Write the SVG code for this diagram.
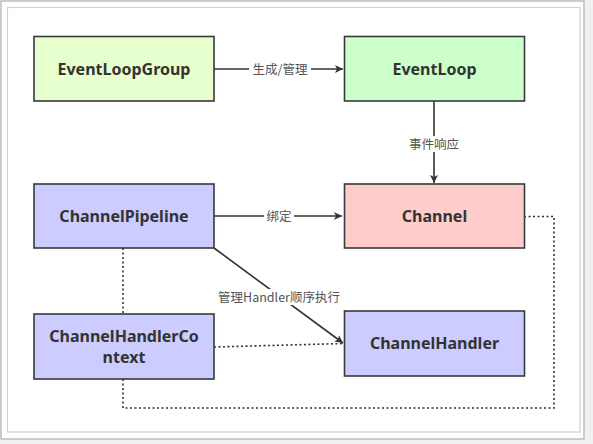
<svg xmlns="http://www.w3.org/2000/svg" width="593" height="444" viewBox="0 0 593 444">
<defs>
<style>
.node rect{stroke:#36393d;stroke-width:1.6}
.node text{font-family:"Noto Sans","Liberation Sans","Noto Sans CJK SC",sans-serif;font-weight:bold;font-size:16px;fill:#333;text-anchor:middle}
.edge{stroke:#333;stroke-width:1.6;fill:none}
.dot{stroke:#333;stroke-width:1.6;fill:none;stroke-dasharray:2 2.5}
.lbl{font-family:"Noto Sans CJK SC","Noto Sans",sans-serif;font-size:12.5px;fill:#555;text-anchor:middle}
</style>
<marker id="arr" viewBox="0 0 10 10" refX="10" refY="5" markerWidth="8" markerHeight="8" markerUnits="userSpaceOnUse" orient="auto">
<path d="M0,0 L10,5 L0,10 L2.5,5 Z" fill="#333"/>
</marker>
</defs>
<rect x="0" y="0" width="593" height="444" fill="#f0f0f0"/>
<rect x="1" y="1" width="583" height="438" fill="#fff" stroke="#bdbdbd" stroke-width="1.5"/>
<rect x="7.5" y="7.5" width="572.5" height="424.5" fill="#fff" stroke="#cfcfcf" stroke-width="1.2"/>

<g id="connectors">
<line class="edge" x1="214" y1="69" x2="343" y2="69" marker-end="url(#arr)"/>
<rect x="249" y="61" width="62" height="16" fill="#fff"/>
<text class="lbl" x="280" y="73.5">生成/管理</text>

<line class="edge" x1="434" y1="101" x2="434" y2="183" marker-end="url(#arr)"/>
<rect x="404" y="136" width="60" height="16" fill="#fff"/>
<text class="lbl" x="434" y="148.5">事件响应</text>

<line class="edge" x1="214" y1="216" x2="342" y2="216" marker-end="url(#arr)"/>
<rect x="264" y="208" width="30" height="16" fill="#fff"/>
<text class="lbl" x="279" y="220.5">绑定</text>

<line class="edge" x1="214" y1="248" x2="343" y2="343" marker-end="url(#arr)"/>
<rect x="213" y="289" width="132" height="16" fill="#fff"/>
<text class="lbl" x="279" y="301.5">管理Handler顺序执行</text>

<line class="dot" x1="123" y1="248" x2="123" y2="314"/>
<line class="dot" x1="214" y1="347" x2="344" y2="343.5"/>
<polyline class="dot" points="123,379 123,408 554,408 554,216.5 524,216.5"/>
</g>

<g id="EventLoopGroup" class="node">
<rect x="34" y="36.5" width="180" height="64.5" fill="#e6ffcc"/>
<text x="124" y="74.5">EventLoopGroup</text>
</g>
<g id="EventLoop" class="node">
<rect x="344.5" y="36.5" width="180" height="64.5" fill="#ccffcc"/>
<text x="434.5" y="74.5">EventLoop</text>
</g>
<g id="ChannelPipeline" class="node">
<rect x="34" y="184" width="180" height="64" fill="#ccccff"/>
<text x="124" y="221.5">ChannelPipeline</text>
</g>
<g id="Channel" class="node">
<rect x="344.5" y="184" width="180" height="64" fill="#ffcccc"/>
<text x="434.5" y="221.5">Channel</text>
</g>
<g id="ChannelHandlerContext" class="node">
<rect x="34" y="314" width="180" height="65" fill="#ccccff"/>
<text x="124" y="342">ChannelHandlerCo</text>
<text x="124" y="362.5">ntext</text>
</g>
<g id="ChannelHandler" class="node">
<rect x="344.5" y="311" width="180" height="65" fill="#ccccff"/>
<text x="434.5" y="349">ChannelHandler</text>
</g>
</svg>
